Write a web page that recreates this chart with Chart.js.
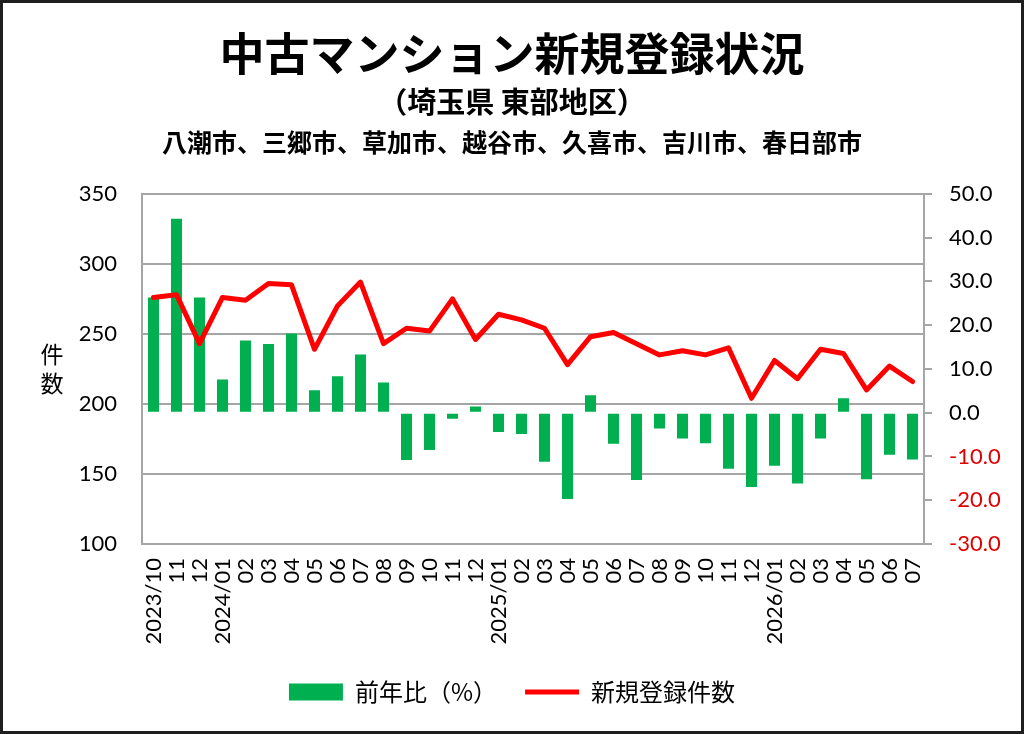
<!DOCTYPE html>
<html lang="ja">
<head>
<meta charset="utf-8">
<title>中古マンション新規登録状況</title>
<script src="https://cdn.jsdelivr.net/npm/chart.js@4.4.1/dist/chart.umd.min.js"></script>
<style>
  html, body { margin: 0; padding: 0; background: #fff; }
  #wrap { width: 1024px; height: 734px; position: relative; }
</style>
</head>
<body>
<div id="wrap"><canvas id="chart" width="1024" height="734"></canvas></div>
<script>
// Months (first of each year carries the year)
const months = [
  '2023/10', '11', '12',
  '2024/01', '02', '03', '04', '05', '06', '07', '08', '09', '10', '11', '12',
  '2025/01', '02', '03', '04', '05', '06', '07', '08', '09', '10', '11', '12',
  '2026/01', '02', '03', '04', '05', '06', '07'
];

// 前年比（%） - right axis
const yoyPct = [
  26.3, 44.3, 26.3,
  7.6, 16.5, 15.7, 18.1, 5.1, 8.3, 13.3, 6.9, -10.8, -8.5, -1.4, 1.4,
  -4.4, -4.9, -11.2, -19.7, 4.0, -7.1, -15.4, -3.6, -5.9, -7.0, -12.8, -17.0,
  -12.1, -16.2, -5.9, 3.3, -15.2, -9.6, -10.7
];

// 新規登録件数 - left axis
const newListings = [
  276, 278, 243,
  276, 274, 286, 285, 239, 270, 287, 243, 254, 252, 275, 246,
  264, 260, 254, 228, 248, 251, 243, 235, 238, 235, 240, 204,
  231, 218, 239, 236, 210, 227, 216
];

const titleText = '中古マンション新規登録状況';
const areaText = '（埼玉県 東部地区）';
const citiesText = '八潮市、三郷市、草加市、越谷市、久喜市、吉川市、春日部市';
const leftAxisTitle = ['件', '数'];

const GREEN = '#00b050';
const RED = '#ff0000';
const GRID = '#a6a6a6';
const JP = "'Noto Sans CJK JP', 'Noto Sans', sans-serif";
const NUM = "Lato, 'Noto Sans', sans-serif";

// Frame round the picture, the city line under the subtitle and the stacked 件数 label
const decor = {
  id: 'decor',
  afterDraw(chart) {
    const { ctx, chartArea } = chart;
    ctx.save();
    ctx.strokeStyle = '#1e1e1e';
    ctx.lineWidth = 3;
    ctx.strokeRect(1.5, 1.5, chart.width - 3, chart.height - 3);

    ctx.fillStyle = '#000';
    ctx.textAlign = 'center';
    ctx.textBaseline = 'middle';
    ctx.font = 'bold 25px ' + JP;
    ctx.fillText(citiesText, chart.width / 2, chartArea.top - 51);

    ctx.font = '23px ' + JP;
    const mid = (chartArea.top + chartArea.bottom) / 2;
    const x = chartArea.left - 90;
    leftAxisTitle.forEach((ch, i) => {
      ctx.fillText(ch, x, mid - 15 + i * 29);
    });
    ctx.restore();
  }
};

new Chart(document.getElementById('chart'), {
  data: {
    labels: months,
    datasets: [
      {
        type: 'bar',
        label: '前年比（%）',
        data: yoyPct,
        yAxisID: 'y2',
        backgroundColor: GREEN,
        borderWidth: 0,
        categoryPercentage: 1,
        barPercentage: 0.48,
        order: 2
      },
      {
        type: 'line',
        label: '新規登録件数',
        data: newListings,
        yAxisID: 'y',
        borderColor: RED,
        backgroundColor: RED,
        borderWidth: 5,
        borderJoinStyle: 'round',
        borderCapStyle: 'round',
        tension: 0,
        pointRadius: 0,
        order: 1
      }
    ]
  },
  options: {
    responsive: false,
    animation: false,
    devicePixelRatio: 1,
    layout: { padding: { left: 0, right: 0, top: 0, bottom: 20 } },
    plugins: {
      title: {
        display: true,
        text: titleText,
        color: '#000',
        font: { family: JP, size: 45, weight: 'bold', lineHeight: 1.2 },
        padding: { top: 27, bottom: 2 }
      },
      subtitle: {
        display: true,
        text: areaText,
        color: '#000',
        font: { family: JP, size: 29, weight: 'bold', lineHeight: 1.2 },
        padding: { top: 2, bottom: 74 }
      },
      legend: {
        position: 'bottom',
        labels: {
          color: '#000',
          font: { family: JP, size: 24 },
          usePointStyle: true,
          pointStyleWidth: 54,
          boxHeight: 17,
          padding: 28,
          generateLabels(chart) {
            return chart.data.datasets.map((ds, i) => ({
              text: ds.label,
              datasetIndex: i,
              fillStyle: ds.type === 'bar' ? GREEN : RED,
              strokeStyle: ds.type === 'bar' ? GREEN : RED,
              lineWidth: ds.type === 'bar' ? 0 : 5,
              pointStyle: ds.type === 'bar' ? 'rect' : 'line',
              fontColor: '#000',
              hidden: false
            }));
          }
        }
      },
      tooltip: { enabled: false }
    },
    scales: {
      x: {
        type: 'category',
        afterFit(scale) { scale.height = 108; },
        grid: { display: true, drawOnChartArea: false, drawTicks: false },
        border: { display: true, color: GRID, width: 2 },
        ticks: {
          color: '#000',
          font: { family: NUM, size: 22 },
          minRotation: 90,
          maxRotation: 90,
          autoSkip: false,
          padding: 14
        }
      },
      y: {
        position: 'left',
        min: 100,
        max: 350,
        afterFit(scale) { scale.width = 142; },
        grid: { color: GRID, lineWidth: 2, drawTicks: false },
        border: { display: true, color: GRID, width: 2 },
        ticks: {
          stepSize: 50,
          color: '#000',
          font: { family: NUM, size: 22 },
          padding: 25
        }
      },
      y2: {
        position: 'right',
        min: -30,
        max: 50,
        afterFit(scale) { scale.width = 100; },
        grid: { drawOnChartArea: false, drawTicks: true, tickLength: 8, color: GRID, lineWidth: 2 },
        border: { display: true, color: GRID, width: 2 },
        ticks: {
          stepSize: 10,
          font: { family: NUM, size: 22 },
          padding: 17,
          color: (c) => (c.tick && c.tick.value < 0 ? '#e00000' : '#000'),
          callback: (v) => Number(v).toFixed(1)
        }
      }
    }
  },
  plugins: [decor]
});
</script>
</body>
</html>
